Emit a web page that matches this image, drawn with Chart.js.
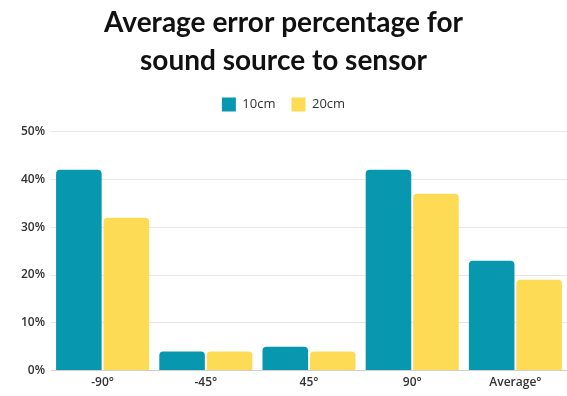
<!DOCTYPE html>
<html>
<head>
<meta charset="utf-8">
<script src="https://cdn.jsdelivr.net/npm/chart.js@4"></script>
<style>
html,body{margin:0;padding:0;background:#fff;}
#wrap{width:567px;height:396px;}
</style>
</head>
<body>
<div id="wrap"><canvas id="c" width="567" height="396"></canvas></div>
<script>
const categories = ['-90°', '-45°', '45°', '90°', 'Average°'];
const series10cm = [42, 4, 5, 42, 23];
const series20cm = [32, 4, 4, 37, 19];
const seriesNames = ['10cm', '20cm'];
const yTicks = [0, 10, 20, 30, 40, 50];

const teal = '#0797AF';
const yellow = '#FDDB55';

const legendSpacer = {
  id: 'legendSpacer',
  beforeInit(chart) {
    const origFit = chart.legend.fit;
    chart.legend.fit = function () {
      origFit.bind(chart.legend)();
      this.height += 10;
    };
  }
};

new Chart(document.getElementById('c'), {
  type: 'bar',
  data: {
    labels: categories,
    datasets: [
      {label: seriesNames[0], data: series10cm, backgroundColor: teal, borderRadius: {topLeft: 4, topRight: 4}, borderSkipped: 'bottom'},
      {label: seriesNames[1], data: series20cm, backgroundColor: yellow, borderRadius: {topLeft: 4, topRight: 4}, borderSkipped: 'bottom'}
    ]
  },
  plugins: [legendSpacer],
  options: {
    responsive: false,
    animation: false,
    devicePixelRatio: 1,
    layout: {padding: {left: 0, right: 0, top: 2, bottom: 1}},
    datasets: {bar: {categoryPercentage: 0.92, barPercentage: 0.96}},
    plugins: {
      title: {
        display: true,
        text: ['Average error percentage for', 'sound source to sensor'],
        color: '#111',
        font: {family: 'Lato', size: 28, weight: 'bold', lineHeight: 1.35},
        padding: {top: 2, bottom: 2}
      },
      legend: {
        display: true,
        labels: {
          boxWidth: 14, boxHeight: 14, color: '#333',
          font: {family: 'Open Sans', size: 13},
          padding: 16
        }
      },
      tooltip: {enabled: false}
    },
    scales: {
      x: {
        grid: {display: false, drawTicks: false},
        border: {display: true, color: '#cfcfcf', width: 1},
        ticks: {color: '#333', font: {family: 'Open Sans', size: 12, weight: '600'}, padding: 5}
      },
      y: {
        min: 0, max: 50,
        afterBuildTicks: (axis) => { axis.ticks = yTicks.map(v => ({value: v})); },
        afterFit: (axis) => { axis.width = 51; },
        grid: {color: '#e6e6e6', drawTicks: false},
        border: {display: false},
        ticks: {color: '#333', font: {family: 'Open Sans', size: 12, weight: '600'}, padding: 6, callback: v => v + '%'}
      }
    }
  }
});
</script>
</body>
</html>
